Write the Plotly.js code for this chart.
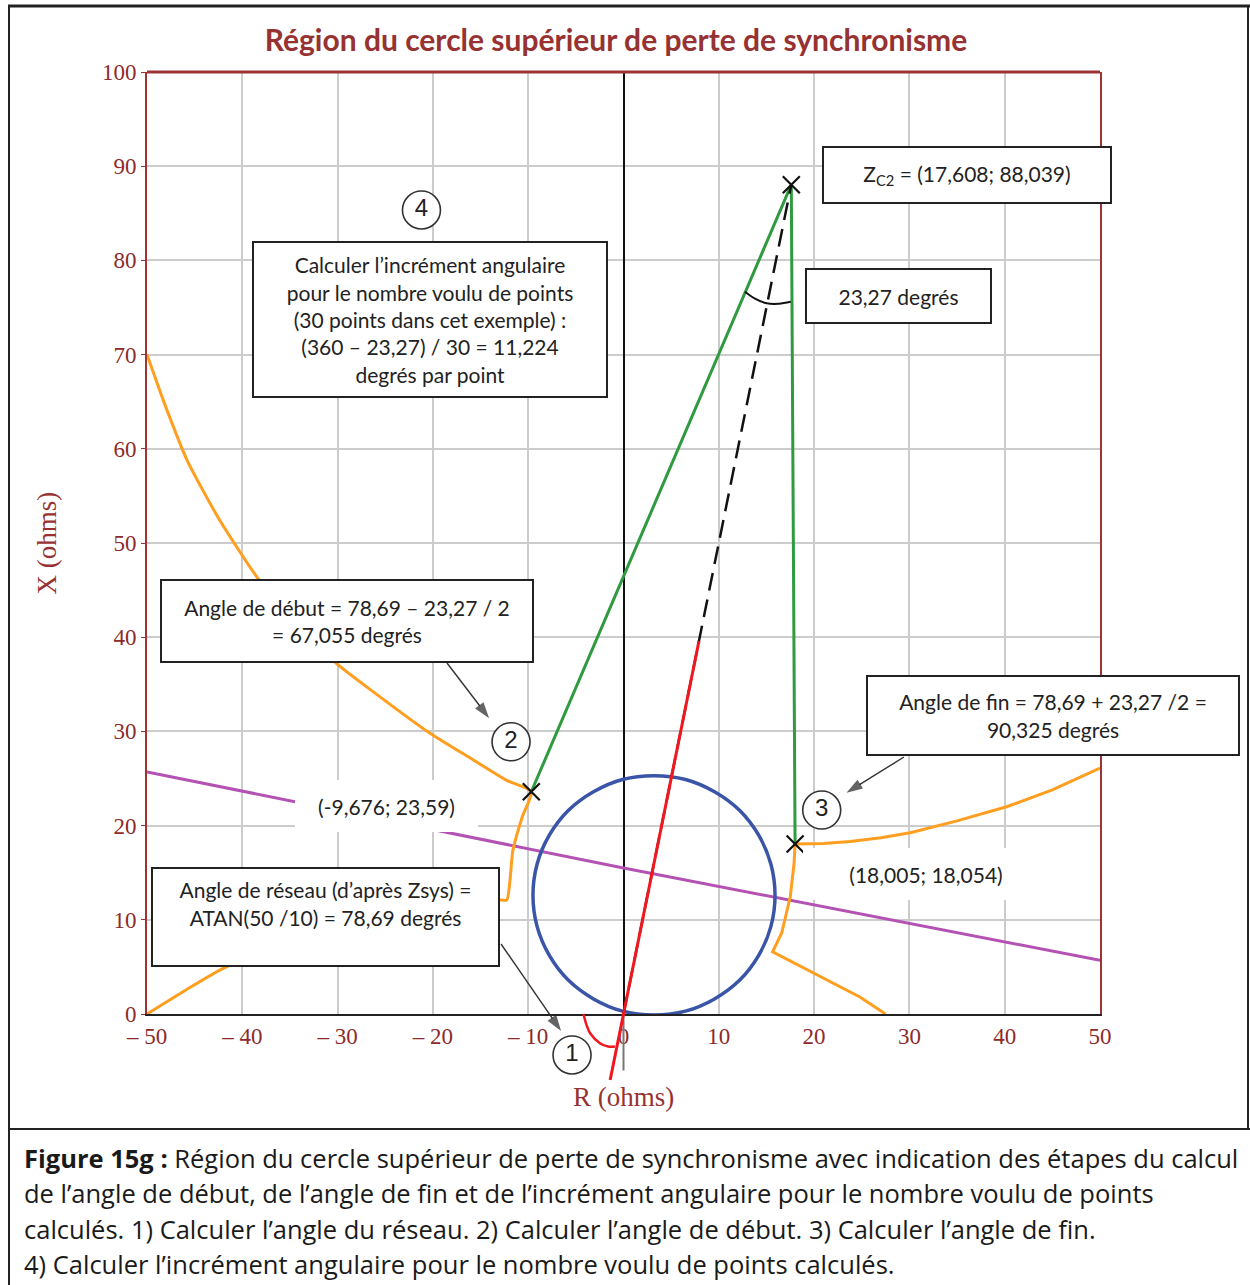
<!DOCTYPE html>
<html>
<head>
<meta charset="utf-8">
<script src="https://cdn.plot.ly/plotly-3.0.1.min.js"></script>
<style>html,body{margin:0;padding:0;background:#fff;}#chart{width:1250px;height:1285px;}</style>
</head>
<body>
<div id="chart"></div>
<script>
// ---------- data ----------
const xTickVals = [-50, -40, -30, -20, -10, 0, 10, 20, 30, 40, 50];
const xTickText = ['\u2013 50', '\u2013 40', '\u2013 30', '\u2013 20', '\u2013 10', '0', '10', '20', '30', '40', '50'];
const yTickVals = [0, 10, 20, 30, 40, 50, 60, 70, 80, 90, 100];
const yTickText = ['0', '10', '20', '30', '40', '50', '60', '70', '80', '90', '100'];

// orange characteristic, left branch
const orangeLeftX = [-50, -48.2, -45.8, -42.3, -38.4, -34.3, -30.1, -26.25, -20.3, -15.8, -12.25, -9.676,
                     -10.6, -11.6, -12.25, -12.9, -20, -30, -38, -42, -46, -50];
const orangeLeftY = [70, 64.9, 58.8, 52.3, 46.3, 41.4, 37.2, 34.2, 29.8, 27.0, 24.8, 23.59,
                     21.0, 17.4, 12.1, 12.1, 10.2, 8.2, 6.3, 4.85, 2.5, 0];
// orange characteristic, right branch
const orangeRightX = [50, 45, 40.2, 35, 30.1, 27, 23.8, 21, 18.005, 17.9, 17.5, 16.6, 15.65, 18.5, 22.7, 24.8, 27.5];
const orangeRightY = [26.1, 23.8, 22.0, 20.5, 19.25, 18.7, 18.3, 18.1, 18.054, 16, 12.45, 8.6, 6.6, 5.1, 2.9, 1.8, 0];

// blue circle
const circleX = [15.9, 15.47, 14.2, 12.2, 9.55, 6.5, 3.2, -0.1, -3.15, -5.8, -7.8, -9.07, -9.5,
                 -9.07, -7.8, -5.8, -3.15, -0.1, 3.2, 6.5, 9.55, 12.2, 14.2, 15.47, 15.9];
const circleY = [12.6, 15.9, 18.95, 21.6, 23.6, 24.9, 25.3, 24.9, 23.6, 21.6, 18.95, 15.9, 12.6,
                 9.3, 6.25, 3.6, 1.6, 0.3, -0.1, 0.3, 1.6, 3.6, 6.25, 9.3, 12.6];

// magenta line
const magentaX = [-50, 0, 50];
const magentaY = [25.7, 15.5, 5.7];

// green lines through the three computed points
const greenX = [-9.676, 17.608, 18.005];
const greenY = [23.59, 88.039, 18.054];

// dashed line origin -> Zc2
const dashX = [0, 17.608];
const dashY = [0, 88.039];

// red network-angle line and its angle arc
const redX = [-1.4, 7.92];
const redY = [-7.0, 39.6];
const redArcX = [-4.2, -3.9, -3.5, -2.47, -1.6, -0.9];
const redArcY = [0, -1.1, -2.05, -3.1, -3.45, -3.45];

// black angle arc near Zc2
const arcX = [12.75, 13.8, 15.03, 16.3, 17.55];
const arcY = [76.68, 75.95, 75.45, 75.4, 75.6];

// short axis extension below the R axis
const stubX = [0, 0];
const stubY = [0, -6];

// marked points
const markX = [-9.676, 17.608, 18.005];
const markY = [23.59, 88.039, 18.054];

// numbered callouts
const calloutText = ['1', '2', '3', '4'];
const calloutX = [-5.4, -11.8, 20.8, -21.2];
const calloutY = [-4.35, 28.9, 21.65, 85.35];

// pointer arrows (tail -> head), from the text boxes to the callouts
const arrowsX = [[-18.52, -14.1], [29.43, 23.4], [-12.85, -6.55]];
const arrowsY = [[37.26, 31.4], [27.28, 23.5], [7.43, -1.8]];

const titleText = 'Région du cercle supérieur de perte de synchronisme';
const captionLines = [
  '<b>Figure 15g :</b> Région du cercle supérieur de perte de synchronisme avec indication des étapes du calcul',
  'de l\u2019angle de début, de l\u2019angle de fin et de l\u2019incrément angulaire pour le nombre voulu de points',
  'calculés. 1) Calculer l\u2019angle du réseau. 2) Calculer l\u2019angle de début. 3) Calculer l\u2019angle de fin.',
  '4) Calculer l\u2019incrément angulaire pour le nombre voulu de points calculés.'
];

// ---------- layout geometry ----------
const W = 1250, H = 1285, L = 147, R = 150, T = 72, B = 185;
const PW = W - L - R, PH = H - T - B;
const AXIS_PX = 1014; // pixel row of R = 0
const px = p => (p - L) / PW;
const py = p => (H - B - p) / PH;
const yMainDomain = [py(AXIS_PX), 1];
const unitY = (AXIS_PX - T) / 100;
const y2Low = -((H - B) - AXIS_PX) / unitY;

const RED = '#9c3434';
const TICK = '#8e2a2a';
const BOXFONT = 'Lato, "Open Sans", sans-serif';
const CAPFONT = '"Open Sans", Lato, sans-serif';

const traces = [
  {x: magentaX, y: magentaY, mode: 'lines', line: {color: '#b452b4', width: 3}, xaxis: 'x', yaxis: 'y'},
  {x: orangeLeftX, y: orangeLeftY, mode: 'lines', line: {color: '#ff9e1f', width: 3, shape: 'spline', smoothing: 0.6}, xaxis: 'x', yaxis: 'y'},
  {x: orangeRightX, y: orangeRightY, mode: 'lines', line: {color: '#ff9e1f', width: 3}, xaxis: 'x', yaxis: 'y'},
  {x: circleX, y: circleY, mode: 'lines', line: {color: '#3a55a8', width: 3.5, shape: 'spline'}, xaxis: 'x', yaxis: 'y'},
  {x: greenX, y: greenY, mode: 'lines', line: {color: '#2f9a40', width: 3}, xaxis: 'x', yaxis: 'y'},
  {x: dashX, y: dashY, mode: 'lines', line: {color: '#111', width: 2.5, dash: '18px,9px'}, xaxis: 'x', yaxis: 'y'},
  {x: arcX, y: arcY, mode: 'lines', line: {color: '#111', width: 2, shape: 'spline'}, xaxis: 'x', yaxis: 'y'},
  // second (extended) subplot: items that reach below the R axis
  {x: stubX, y: stubY, mode: 'lines', line: {color: '#777', width: 2}, xaxis: 'x2', yaxis: 'y2'},
  {x: redX, y: redY, mode: 'lines', line: {color: '#f0171f', width: 3}, xaxis: 'x2', yaxis: 'y2'},
  {x: redArcX, y: redArcY, mode: 'lines', line: {color: '#f0171f', width: 2.5, shape: 'spline'}, xaxis: 'x2', yaxis: 'y2'},
  {x: markX, y: markY, mode: 'markers', marker: {symbol: 'x-thin-open', size: 17, color: '#111', line: {color: '#111', width: 2.2}}, xaxis: 'x2', yaxis: 'y2', cliponaxis: false}
];
arrowsX.forEach((ax, i) => {
  traces.push({x: ax, y: arrowsY[i], mode: 'lines+markers', xaxis: 'x2', yaxis: 'y2', cliponaxis: false,
    line: {color: '#333', width: 1.4},
    marker: {symbol: 'arrow', angleref: 'previous', size: [0, 17], color: '#222', line: {width: 0}}});
});
traces.push({x: calloutX, y: calloutY, mode: 'markers+text', text: calloutText, textposition: 'middle center',
   textfont: {family: '"Liberation Sans", Arial, sans-serif', size: 24, color: '#222'},
   marker: {symbol: 'circle', size: 38, color: 'rgba(255,255,255,0.9)', line: {color: '#333', width: 1.6}},
   xaxis: 'x2', yaxis: 'y2', cliponaxis: false});
traces.forEach(t => { t.showlegend = false; t.hoverinfo = 'skip'; });

function box(x0, y0, x1, y1, text, opt) {
  opt = opt || {};
  const bw = opt.border === false ? 0 : 2;
  return {
    xref: 'paper', yref: 'paper', x: px((x0 + x1) / 2), y: py((y0 + y1) / 2),
    xanchor: 'center', yanchor: 'middle', showarrow: false,
    text: text, align: 'center',
    width: (x1 - x0) - 2 * bw, height: (y1 - y0) - 2 * bw,
    borderpad: 0, borderwidth: bw, bordercolor: '#222', bgcolor: '#fff',
    font: {family: BOXFONT, size: opt.size || 21, color: '#222'}
  };
}

const annotations = [
  box(822, 146, 1112, 204, 'Z<sub>C2</sub> = (17,608; 88,039)'),
  box(805, 268, 992, 324, '23,27 degrés'),
  box(252, 241, 608, 398, 'Calculer l\u2019incrément angulaire<br>pour le nombre voulu de points<br>(30 points dans cet exemple) :<br>(360 \u2013 23,27) / 30 = 11,224<br>degrés par point'),
  box(160, 579, 534, 663, 'Angle de début = 78,69 \u2013 23,27 / 2<br>= 67,055 degrés'),
  box(866, 675, 1240, 756, 'Angle de fin = 78,69 + 23,27 /2 =<br>90,325 degrés'),
  box(151, 867, 500, 967, 'Angle de réseau (d\u2019après Zsys) =<br>ATAN(50 /10) = 78,69 degrés<br>\u00a0'),
  box(295, 780, 478, 832, '(-9,676; 23,59)', {border: false}),
  box(803, 848, 1049, 900, '(18,005; 18,054)', {border: false})
];
const capY = [1158, 1193, 1229, 1264];
captionLines.forEach((t, i) => {
  annotations.push({xref: 'paper', yref: 'paper', x: px(22), y: py(capY[i]), xanchor: 'left', yanchor: 'middle',
    showarrow: false, text: t, align: 'left', font: {family: CAPFONT, size: 25.5, color: '#1a1a1a'}});
});

const shapes = [
  {type: 'line', xref: 'paper', yref: 'paper', x0: 0, x1: 1, y0: 1, y1: 1, line: {color: RED, width: 3}},
  {type: 'line', xref: 'paper', yref: 'paper', x0: px(8), x1: px(1250), y0: py(6), y1: py(6), line: {color: '#222', width: 3}},
  {type: 'line', xref: 'paper', yref: 'paper', x0: px(9), x1: px(9), y0: py(5), y1: py(1285), line: {color: '#222', width: 2}},
  {type: 'line', xref: 'paper', yref: 'paper', x0: px(1248), x1: px(1248), y0: py(5), y1: py(1129), line: {color: '#222', width: 2}},
  {type: 'line', xref: 'paper', yref: 'paper', x0: px(8), x1: px(1250), y0: py(1129), y1: py(1129), line: {color: '#222', width: 2}}
];

const layout = {
  width: W, height: H,
  margin: {l: L, r: R, t: T, b: B, pad: 0},
  paper_bgcolor: '#fff', plot_bgcolor: 'rgba(0,0,0,0)',
  showlegend: false,
  title: {text: '<b>' + titleText + '</b>', font: {family: 'Lato, sans-serif', size: 30, color: '#963232'},
          xref: 'container', x: 616 / W, xanchor: 'center', yref: 'container', y: 1 - 40 / H, yanchor: 'middle'},
  xaxis: {
    domain: [0, 1], range: [-50, 50], anchor: 'y',
    tickmode: 'array', tickvals: xTickVals, ticktext: xTickText,
    tickfont: {family: '"Liberation Serif", "DejaVu Serif", serif', size: 23, color: TICK},
    ticks: '', showgrid: true, gridcolor: '#cccccc', gridwidth: 2,
    zeroline: true, zerolinecolor: '#111', zerolinewidth: 2,
    showline: true, linecolor: '#222', linewidth: 2, mirror: false,
    title: {text: 'R (ohms)', font: {family: '"Liberation Serif", serif', size: 27, color: '#963232'}, standoff: 40},
    fixedrange: true
  },
  yaxis: {
    domain: yMainDomain, range: [0, 100], anchor: 'x',
    tickmode: 'array', tickvals: yTickVals, ticktext: yTickText,
    tickfont: {family: '"Liberation Serif", "DejaVu Serif", serif', size: 23, color: TICK},
    ticks: 'outside', ticklen: 4, tickcolor: RED, tickwidth: 1,
    showgrid: true, gridcolor: '#cccccc', gridwidth: 2,
    zeroline: false,
    showline: true, linecolor: RED, linewidth: 2, mirror: true,
    title: {text: 'X (ohms)', font: {family: '"Liberation Serif", serif', size: 27, color: '#963232'}, standoff: 37},
    fixedrange: true
  },
  xaxis2: {domain: [0, 1], range: [-50, 50], anchor: 'y2', visible: false, fixedrange: true},
  yaxis2: {domain: [0, 1], range: [y2Low, 100], anchor: 'x2', visible: false, fixedrange: true},
  annotations: annotations,
  shapes: shapes
};

Plotly.newPlot('chart', traces, layout, {displayModeBar: false, staticPlot: true});
</script>
</body>
</html>
